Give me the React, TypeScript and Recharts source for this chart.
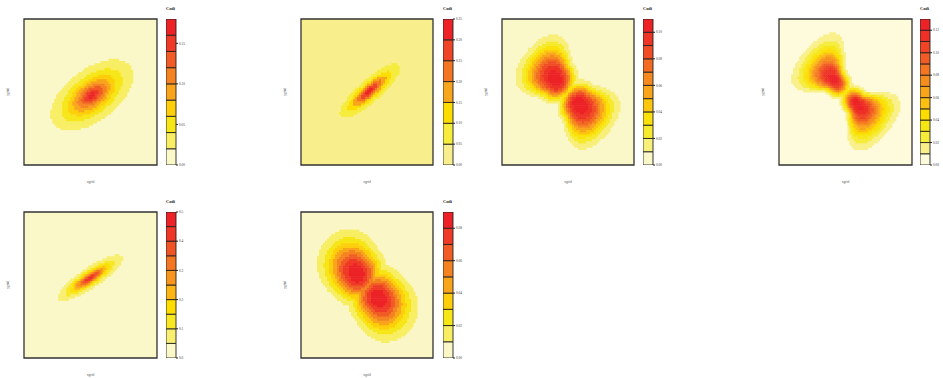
import { useMemo } from "react";
import { Bar, BarChart, CartesianGrid, ReferenceArea, Scatter, ScatterChart, XAxis, YAxis } from "recharts";

// Each surface is built from skewed lobes on the unit grid.
// angle = direction of the lobe's long (u) axis, sFar/sNear = spread on either side of the peak
// along u, sPerp = spread across u, spread = how fast the cross spread widens behind the peak,
// beta = shape exponent (<1 peaked, >1 flat-topped).
interface Lobe {
  cx: number;
  cy: number;
  angle: number;
  amp: number;
  sFar: number;
  sNear: number;
  sPerp: number;
  spread: number;
  beta: number;
}

const surface1: Lobe[] = [
  { cx: 0.51, cy: 0.48, angle: 33, amp: 0.175, sFar: 0.113, sNear: 0.113, sPerp: 0.058, spread: 0, beta: 0.65 },
];
const surface2: Lobe[] = [
  { cx: 0.52, cy: 0.51, angle: 38, amp: 0.33, sFar: 0.116, sNear: 0.116, sPerp: 0.032, spread: 0, beta: 0.75 },
];
const surface3: Lobe[] = [
  { cx: 0.414, cy: 0.582, angle: 136, amp: 0.106, sFar: 0.172, sNear: 0.0865, sPerp: 0.098, spread: 0.4, beta: 1.4 },
  { cx: 0.578, cy: 0.423, angle: -44, amp: 0.106, sFar: 0.172, sNear: 0.0865, sPerp: 0.098, spread: 0.4, beta: 1.4 },
];
const surface4: Lobe[] = [
  { cx: 0.42, cy: 0.58, angle: 136, amp: 0.125, sFar: 0.161, sNear: 0.08, sPerp: 0.059, spread: 0.57, beta: 1.3 },
  { cx: 0.584, cy: 0.423, angle: -44, amp: 0.125, sFar: 0.161, sNear: 0.08, sPerp: 0.059, spread: 0.57, beta: 1.3 },
];
const surface5: Lobe[] = [
  { cx: 0.496, cy: 0.55, angle: 31, amp: 0.48, sFar: 0.0945, sNear: 0.0945, sPerp: 0.024, spread: 0, beta: 0.7 },
];
const surface6: Lobe[] = [
  { cx: 0.427, cy: 0.575, angle: 134, amp: 0.088, sFar: 0.17, sNear: 0.111, sPerp: 0.118, spread: 0.1, beta: 1.1 },
  { cx: 0.578, cy: 0.42, angle: -46, amp: 0.088, sFar: 0.17, sNear: 0.111, sPerp: 0.118, spread: 0.1, beta: 1.1 },
];

// contour breaks (colour key levels) and labelled ticks
const breaks1 = [0, 0.02, 0.04, 0.06, 0.08, 0.1, 0.12, 0.14, 0.16, 0.18];
const ticks1 = [0, 0.05, 0.1, 0.15];
const breaks2 = [0, 0.05, 0.1, 0.15, 0.2, 0.25, 0.3, 0.35];
const ticks2 = [0, 0.05, 0.1, 0.15, 0.2, 0.25, 0.3, 0.35];
const breaks3 = [0, 0.01, 0.02, 0.03, 0.04, 0.05, 0.06, 0.07, 0.08, 0.09, 0.1, 0.11];
const ticks3 = [0, 0.02, 0.04, 0.06, 0.08, 0.1];
const breaks4 = [0, 0.01, 0.02, 0.03, 0.04, 0.05, 0.06, 0.07, 0.08, 0.09, 0.1, 0.11, 0.12, 0.13];
const ticks4 = [0, 0.02, 0.04, 0.06, 0.08, 0.1, 0.12];
const breaks5 = [0, 0.05, 0.1, 0.15, 0.2, 0.25, 0.3, 0.35, 0.4, 0.45, 0.5];
const ticks5 = [0, 0.1, 0.2, 0.3, 0.4, 0.5];
const breaks6 = [0, 0.01, 0.02, 0.03, 0.04, 0.05, 0.06, 0.07, 0.08, 0.09];
const ticks6 = [0, 0.02, 0.04, 0.06, 0.08];

const GRID_N = 66;
const PLOT_H = 146;
const CB_W = 10;

const PALETTE: [number, string][] = [
  [0, "#FEFADC"],
  [0.083, "#F9F08A"],
  [0.167, "#F6EC3C"],
  [0.25, "#F7E616"],
  [0.333, "#FDDD00"],
  [0.417, "#FCBF12"],
  [0.5, "#F9A51B"],
  [0.583, "#F68D1F"],
  [0.667, "#F47622"],
  [0.75, "#F15B25"],
  [0.833, "#EF4426"],
  [0.917, "#EE3027"],
  [1, "#EC2227"],
];

function hexRgb(h: string) {
  const n = parseInt(h.slice(1), 16);
  return [(n >> 16) & 255, (n >> 8) & 255, n & 255];
}

function paletteAt(t: number) {
  for (let i = 1; i < PALETTE.length; i++) {
    const [t1, c1] = PALETTE[i];
    const [t0, c0] = PALETTE[i - 1];
    if (t <= t1) {
      const f = (t - t0) / (t1 - t0);
      const a = hexRgb(c0);
      const b = hexRgb(c1);
      const m = a.map((v, k) => Math.round(v + (b[k] - v) * f));
      return `rgb(${m[0]},${m[1]},${m[2]})`;
    }
  }
  return PALETTE[PALETTE.length - 1][1];
}

function bandColors(nBands: number, base: string) {
  return Array.from({ length: nBands }, (_, i) => (i === 0 ? base : paletteAt(i / (nBands - 1))));
}

function lobeValue(l: Lobe, x: number, y: number) {
  const a = (l.angle * Math.PI) / 180;
  const dx = x - l.cx;
  const dy = y - l.cy;
  const u = dx * Math.cos(a) + dy * Math.sin(a);
  const v = -dx * Math.sin(a) + dy * Math.cos(a);
  const su = u >= 0 ? l.sFar : l.sNear;
  const sv = l.sPerp + l.spread * Math.max(u, 0);
  const q = (u * u) / (su * su) + (v * v) / (sv * sv);
  return l.amp * Math.exp(-0.5 * Math.pow(q, l.beta));
}

function surfaceValue(lobes: Lobe[], x: number, y: number) {
  let best = 0;
  for (const l of lobes) best = Math.max(best, lobeValue(l, x, y));
  return best;
}

interface PanelCfg {
  lobes: Lobe[];
  breaks: number[];
  ticks: number[];
  digits: number;
  base: string;
  left: number;
  top: number;
  width: number;
  cbLeft: number;
}

const panels: PanelCfg[] = [
  { lobes: surface1, breaks: breaks1, ticks: ticks1, digits: 2, base: "#FAF7C8", left: 24, top: 19, width: 133, cbLeft: 166 },
  { lobes: surface2, breaks: breaks2, ticks: ticks2, digits: 2, base: "#F8EF8C", left: 301, top: 19, width: 132, cbLeft: 443 },
  { lobes: surface3, breaks: breaks3, ticks: ticks3, digits: 2, base: "#FAF7C8", left: 502, top: 19, width: 132, cbLeft: 643 },
  { lobes: surface4, breaks: breaks4, ticks: ticks4, digits: 2, base: "#FEFBDC", left: 779, top: 19, width: 133, cbLeft: 920 },
  { lobes: surface5, breaks: breaks5, ticks: ticks5, digits: 1, base: "#FAF7C8", left: 24, top: 212, width: 133, cbLeft: 166 },
  { lobes: surface6, breaks: breaks6, ticks: ticks6, digits: 2, base: "#FAF6C6", left: 301, top: 212, width: 132, cbLeft: 443 },
];

const labelFont = "'Liberation Serif', 'DejaVu Serif', serif";

function DensityPanel({ cfg }: { cfg: PanelCfg }) {
  const nBands = cfg.breaks.length - 1;
  const colors = useMemo(() => bandColors(nBands, cfg.base), [nBands, cfg.base]);

  const cells = useMemo(() => {
    const out: { x: number; y: number; fill: string }[] = [];
    for (let i = 0; i < GRID_N; i++) {
      for (let j = 0; j < GRID_N; j++) {
        const x = (i + 0.5) / GRID_N;
        const y = (j + 0.5) / GRID_N;
        const f = surfaceValue(cfg.lobes, x, y);
        let band = 0;
        for (let k = 1; k < cfg.breaks.length - 1; k++) if (f >= cfg.breaks[k]) band = k;
        if (band > 0) out.push({ x, y, fill: colors[band] });
      }
    }
    return out;
  }, [cfg, colors]);

  const cw = cfg.width / GRID_N;
  const ch = PLOT_H / GRID_N;
  const top = cfg.breaks[cfg.breaks.length - 1];
  const bandRow: Record<string, number | string> = { name: "key" };
  for (let i = 0; i < nBands; i++) bandRow[`b${i}`] = cfg.breaks[i + 1] - cfg.breaks[i];

  return (
    <>
      <div style={{ position: "absolute", left: cfg.left - 2, top: cfg.top - 2 }}>
        <ScatterChart width={cfg.width + 4} height={PLOT_H + 4} margin={{ top: 2, right: 2, bottom: 2, left: 2 }}>
          <CartesianGrid fill={colors[0]} stroke="none" horizontal={false} vertical={false} />
          <XAxis type="number" dataKey="x" domain={[0, 1]} hide />
          <YAxis type="number" dataKey="y" domain={[0, 1]} hide />
          <Scatter
            data={cells}
            isAnimationActive={false}
            shape={(p: any) => (
              <rect x={p.cx - cw / 2} y={p.cy - ch / 2} width={cw + 0.45} height={ch + 0.45} fill={p.payload.fill} />
            )}
          />
          <ReferenceArea x1={0} x2={1} y1={0} y2={1} fill="none" stroke="#333" strokeWidth={1.3} ifOverflow="visible" />
        </ScatterChart>
      </div>

      <div style={{ position: "absolute", left: cfg.cbLeft, top: cfg.top - 3 }}>
        <BarChart
          width={CB_W + 18}
          height={PLOT_H + 6}
          data={[bandRow]}
          margin={{ top: 3, right: 0, bottom: 3, left: 0 }}
          barCategoryGap={0}
          barGap={0}
        >
          <XAxis dataKey="name" hide />
          <YAxis
            orientation="right"
            type="number"
            domain={[0, top]}
            ticks={cfg.ticks}
            interval={0}
            allowDataOverflow
            axisLine={false}
            tickSize={2}
            tickMargin={1}
            width={18}
            stroke="#222"
            tick={{ fontSize: 3.4, fill: "#333", fontFamily: labelFont }}
            tickFormatter={(v: number) => v.toFixed(cfg.digits)}
          />
          {colors.map((c, i) => (
            <Bar key={i} dataKey={`b${i}`} stackId="key" fill={c} stroke="#222" strokeWidth={0.9} isAnimationActive={false} />
          ))}
        </BarChart>
      </div>

      <span
        style={{
          position: "absolute",
          left: cfg.cbLeft,
          top: cfg.top - 13,
          fontSize: 4.4,
          fontWeight: "bold",
          color: "#222",
          fontFamily: labelFont,
          whiteSpace: "nowrap",
        }}
      >
        Codi
      </span>
      <span
        style={{
          position: "absolute",
          left: cfg.left + cfg.width / 2,
          top: cfg.top + PLOT_H + 15,
          transform: "translateX(-50%)",
          fontSize: 3.6,
          color: "#555",
          fontFamily: labelFont,
          whiteSpace: "nowrap",
        }}
      >
        xgrid
      </span>
      <span
        style={{
          position: "absolute",
          left: cfg.left - 16,
          top: cfg.top + PLOT_H / 2,
          transform: "translate(-50%, -50%) rotate(-90deg)",
          fontSize: 3.6,
          color: "#555",
          fontFamily: labelFont,
          whiteSpace: "nowrap",
        }}
      >
        ygrid
      </span>
    </>
  );
}

export default function App() {
  return (
    <div
      style={{
        position: "absolute",
        left: 0,
        top: 0,
        width: 943,
        height: 378,
        overflow: "hidden",
        background: "#fff",
      }}
    >
      {panels.map((cfg, i) => (
        <DensityPanel key={i} cfg={cfg} />
      ))}
    </div>
  );
}
